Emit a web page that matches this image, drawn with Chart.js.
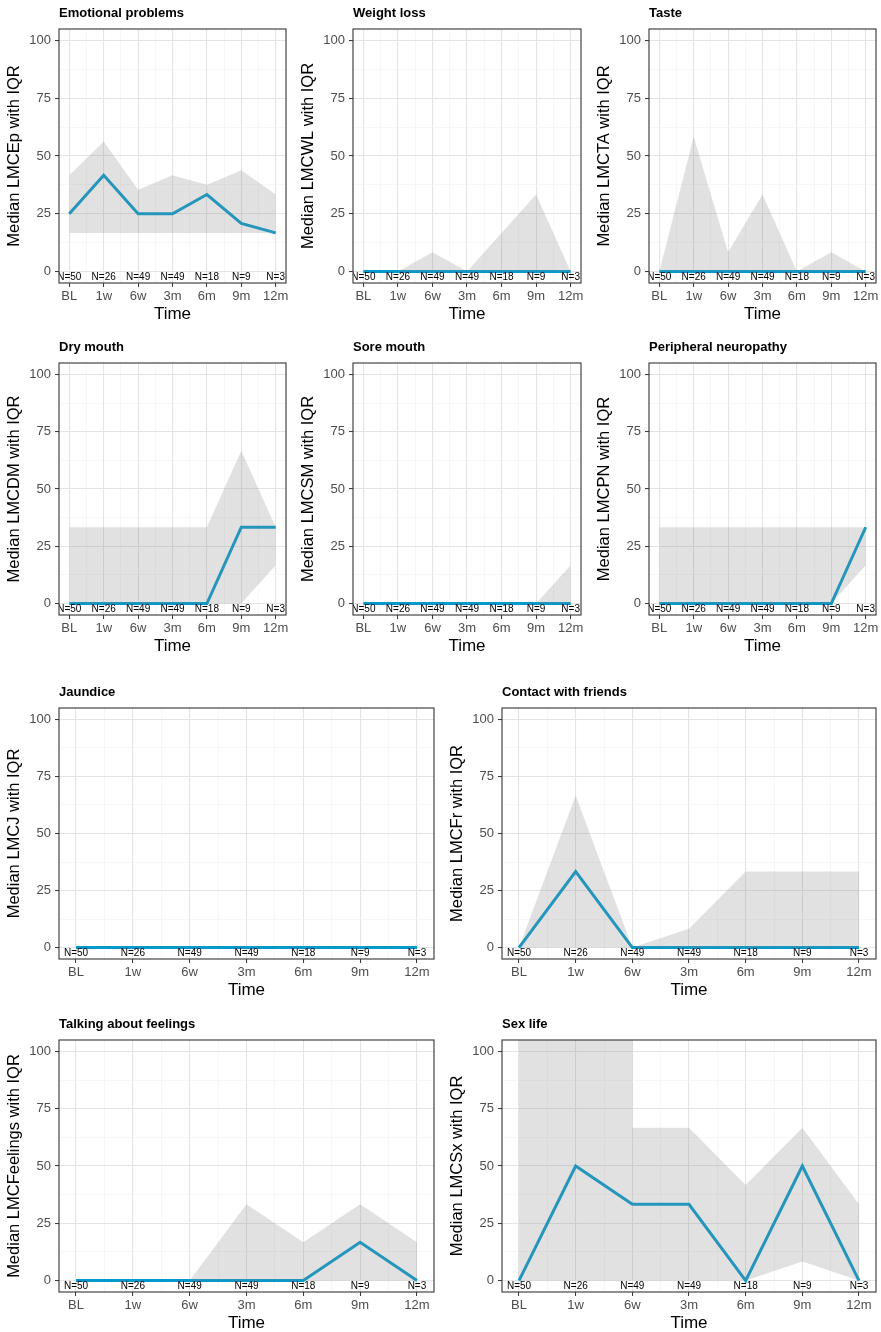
<!DOCTYPE html>
<html><head><meta charset="utf-8">
<script src="https://cdn.jsdelivr.net/npm/chart.js@4.4.1/dist/chart.umd.min.js"></script>
<style>
html,body{margin:0;padding:0;background:#fff;overflow:hidden;width:881px;height:1332px;}
canvas{position:absolute;}
</style></head><body>
<script>
// ---------- DATA ----------
const timeLabels = ['BL', '1w', '6w', '3m', '6m', '9m', '12m'];
const nLabels = ['N=50', 'N=26', 'N=49', 'N=49', 'N=18', 'N=9', 'N=3'];
const yTickValues = [0, 12.5, 25, 37.5, 50, 62.5, 75, 87.5, 100];
const xTickValues = [0, 0.5, 1, 1.5, 2, 2.5, 3, 3.5, 4, 4.5, 5, 5.5, 6];

const emoMedian = [25, 41.7, 25, 25, 33.3, 20.8, 16.7];
const emoLower  = [16.7, 16.7, 16.7, 16.7, 16.7, 16.7, 16.7];
const emoUpper  = [41.7, 56.3, 35.4, 41.7, 37.5, 43.8, 33.3];

const wlMedian = [0, 0, 0, 0, 0, 0, 0];
const wlLower  = [0, 0, 0, 0, 0, 0, 0];
const wlUpper  = [0, 0, 8.3, 0, 16.7, 33.3, 0];

const taMedian = [0, 0, 0, 0, 0, 0, 0];
const taLower  = [0, 0, 0, 0, 0, 0, 0];
const taUpper  = [0, 58.3, 8.3, 33.3, 0, 8.3, 0];

const dmMedian = [0, 0, 0, 0, 0, 33.3, 33.3];
const dmLower  = [0, 0, 0, 0, 0, 0, 16.7];
const dmUpper  = [33.3, 33.3, 33.3, 33.3, 33.3, 66.7, 33.3];

const smMedian = [0, 0, 0, 0, 0, 0, 0];
const smLower  = [0, 0, 0, 0, 0, 0, 0];
const smUpper  = [0, 0, 0, 0, 0, 0, 16.7];

const pnMedian = [0, 0, 0, 0, 0, 0, 33.3];
const pnLower  = [0, 0, 0, 0, 0, 0, 16.7];
const pnUpper  = [33.3, 33.3, 33.3, 33.3, 33.3, 33.3, 33.3];

const jaMedian = [0, 0, 0, 0, 0, 0, 0];
const jaLower  = [0, 0, 0, 0, 0, 0, 0];
const jaUpper  = [0, 0, 0, 0, 0, 0, 0];

const cfMedian = [0, 33.3, 0, 0, 0, 0, 0];
const cfLower  = [0, 0, 0, 0, 0, 0, 0];
const cfUpper  = [0, 66.7, 0, 8.3, 33.3, 33.3, 33.3];

const tfMedian = [0, 0, 0, 0, 0, 16.7, 0];
const tfLower  = [0, 0, 0, 0, 0, 0, 0];
const tfUpper  = [0, 0, 0, 33.3, 16.7, 33.3, 16.7];

// upper quartile above the plotted range at BL..6w, dropping at 6w
const sxMedian = [0, 50, 33.3, 33.3, 0, 50, 0];
const sxLower  = [0, 0, 0, 0, 0, 8.3, 0];
const sxUpper  = [120, 120, [120, 66.7], 66.7, 41.7, 66.7, 33.3];

const panelTitles = ['Emotional problems', 'Weight loss', 'Taste', 'Dry mouth', 'Sore mouth',
  'Peripheral neuropathy', 'Jaundice', 'Contact with friends', 'Talking about feelings', 'Sex life'];
const yTitles = ['Median LMCEp with IQR', 'Median LMCWL with IQR', 'Median LMCTA with IQR',
  'Median LMCDM with IQR', 'Median LMCSM with IQR', 'Median LMCPN with IQR', 'Median LMCJ with IQR',
  'Median LMCFr with IQR', 'Median LMCFeelings with IQR', 'Median LMCSx with IQR'];
const medians = [emoMedian, wlMedian, taMedian, dmMedian, smMedian, pnMedian, jaMedian, cfMedian, tfMedian, sxMedian];
const lowers  = [emoLower, wlLower, taLower, dmLower, smLower, pnLower, jaLower, cfLower, tfLower, sxLower];
const uppers  = [emoUpper, wlUpper, taUpper, dmUpper, smUpper, pnUpper, jaUpper, cfUpper, tfUpper, sxUpper];

// ---------- LAYOUT (plot-area boxes, page pixels) ----------
const plotBoxes = [
  {left: 59,  top: 29,   width: 227, height: 254},
  {left: 353, top: 29,   width: 228, height: 254},
  {left: 649, top: 29,   width: 227, height: 254},
  {left: 59,  top: 363,  width: 227, height: 252},
  {left: 353, top: 363,  width: 228, height: 252},
  {left: 649, top: 363,  width: 227, height: 252},
  {left: 59,  top: 708,  width: 375, height: 251},
  {left: 502, top: 708,  width: 374, height: 251},
  {left: 59,  top: 1040, width: 375, height: 252},
  {left: 502, top: 1040, width: 374, height: 252}
];
const AXIS_W = 58, PAD_TOP = 30, PAD_RIGHT = 5, AXIS_H = 42;
const FONT = "'Liberation Sans', Arial, Helvetica, sans-serif";
const LINE_COLOR = '#0099cc';
const RIBBON_COLOR = 'rgba(140,140,140,0.26)';
const MAJOR_GRID = '#e4e4e4';
const MINOR_GRID = '#f1f1f1';

function toPoints(values) {
  const pts = [];
  values.forEach((v, i) => {
    if (Array.isArray(v)) v.forEach(y => pts.push({x: i, y: y}));
    else pts.push({x: i, y: v});
  });
  return pts;
}

const panelPlugin = {
  id: 'panelDeco',
  afterDatasetsDraw(chart, args, opts) {
    const ctx = chart.ctx, a = chart.chartArea;
    const xs = chart.scales.x, ys = chart.scales.y;
    // N labels
    ctx.save();
    ctx.beginPath();
    ctx.rect(a.left, a.top, a.right - a.left, a.bottom - a.top);
    ctx.clip();
    ctx.fillStyle = '#000';
    ctx.font = '10px ' + FONT;
    ctx.textAlign = 'center';
    ctx.textBaseline = 'middle';
    const y0 = ys.getPixelForValue(0) + 5.7;
    nLabels.forEach((t, i) => ctx.fillText(t, xs.getPixelForValue(i), y0));
    ctx.restore();
    // panel border
    ctx.save();
    ctx.strokeStyle = '#333333';
    ctx.lineWidth = 1.1;
    ctx.strokeRect(a.left, a.top, a.right - a.left, a.bottom - a.top);
    ctx.restore();
    // title
    ctx.save();
    ctx.fillStyle = '#000';
    ctx.font = 'bold 13px ' + FONT;
    ctx.textAlign = 'left';
    ctx.textBaseline = 'middle';
    ctx.fillText(opts.title, a.left, a.top - 15.5);
    ctx.restore();
  }
};

const isMajorX = v => Math.abs(v - Math.round(v)) < 1e-9;
const isMajorY = v => Math.abs(v / 25 - Math.round(v / 25)) < 1e-9;

plotBoxes.forEach((b, k) => {
  const cv = document.createElement('canvas');
  const w = b.width + AXIS_W + PAD_RIGHT, h = b.height + PAD_TOP + AXIS_H;
  cv.width = w; cv.height = h;
  cv.style.width = w + 'px'; cv.style.height = h + 'px';
  cv.style.left = (b.left - AXIS_W) + 'px';
  cv.style.top = (b.top - PAD_TOP) + 'px';
  document.body.appendChild(cv);

  new Chart(cv, {
    type: 'line',
    data: {
      datasets: [
        {data: toPoints(lowers[k]), borderWidth: 0, pointRadius: 0, fill: false, borderColor: 'rgba(0,0,0,0)'},
        {data: toPoints(uppers[k]), borderWidth: 0, pointRadius: 0, fill: '-1', backgroundColor: RIBBON_COLOR, borderColor: 'rgba(0,0,0,0)'},
        {data: toPoints(medians[k]), borderWidth: 3, pointRadius: 0, fill: false, borderColor: LINE_COLOR, tension: 0}
      ]
    },
    options: {
      responsive: false,
      animation: false,
      devicePixelRatio: 1,
      events: [],
      layout: {padding: {top: PAD_TOP, right: PAD_RIGHT, left: 0, bottom: 0}},
      plugins: {
        legend: {display: false},
        tooltip: {enabled: false},
        panelDeco: {title: panelTitles[k]}
      },
      scales: {
        x: {
          type: 'linear', min: -0.3, max: 6.3,
          afterBuildTicks: s => { s.ticks = xTickValues.map(v => ({value: v})); },
          afterFit: s => { s.height = AXIS_H; },
          border: {display: false},
          grid: {
            color: c => isMajorX(c.tick.value) ? MAJOR_GRID : MINOR_GRID,
            lineWidth: c => isMajorX(c.tick.value) ? 1.1 : 0.6,
            tickColor: c => isMajorX(c.tick.value) ? '#333333' : 'rgba(0,0,0,0)',
            tickWidth: 1,
            tickLength: 4,
            drawTicks: true
          },
          ticks: {
            autoSkip: false, maxRotation: 0, minRotation: 0, padding: 2,
            color: '#4d4d4d', font: {family: FONT, size: 13},
            callback: v => isMajorX(v) ? timeLabels[Math.round(v)] : ''
          },
          title: {display: true, text: 'Time', color: '#000', font: {family: FONT, size: 17}, padding: {top: 0, bottom: 0}}
        },
        y: {
          type: 'linear', min: -5, max: 105,
          afterBuildTicks: s => { s.ticks = yTickValues.map(v => ({value: v})); },
          afterFit: s => { s.width = AXIS_W; },
          border: {display: false},
          grid: {
            color: c => isMajorY(c.tick.value) ? MAJOR_GRID : MINOR_GRID,
            lineWidth: c => isMajorY(c.tick.value) ? 1.1 : 0.6,
            tickColor: c => isMajorY(c.tick.value) ? '#333333' : 'rgba(0,0,0,0)',
            tickWidth: 1,
            tickLength: 4,
            drawTicks: true
          },
          ticks: {
            autoSkip: false, padding: 4,
            color: '#4d4d4d', font: {family: FONT, size: 13},
            callback: v => isMajorY(v) ? String(v) : ''
          },
          title: {display: true, text: yTitles[k], color: '#000', font: {family: FONT, size: 16.5}, padding: {top: 4, bottom: 0}}
        }
      }
    },
    plugins: [panelPlugin]
  });
});
</script>
</body></html>
